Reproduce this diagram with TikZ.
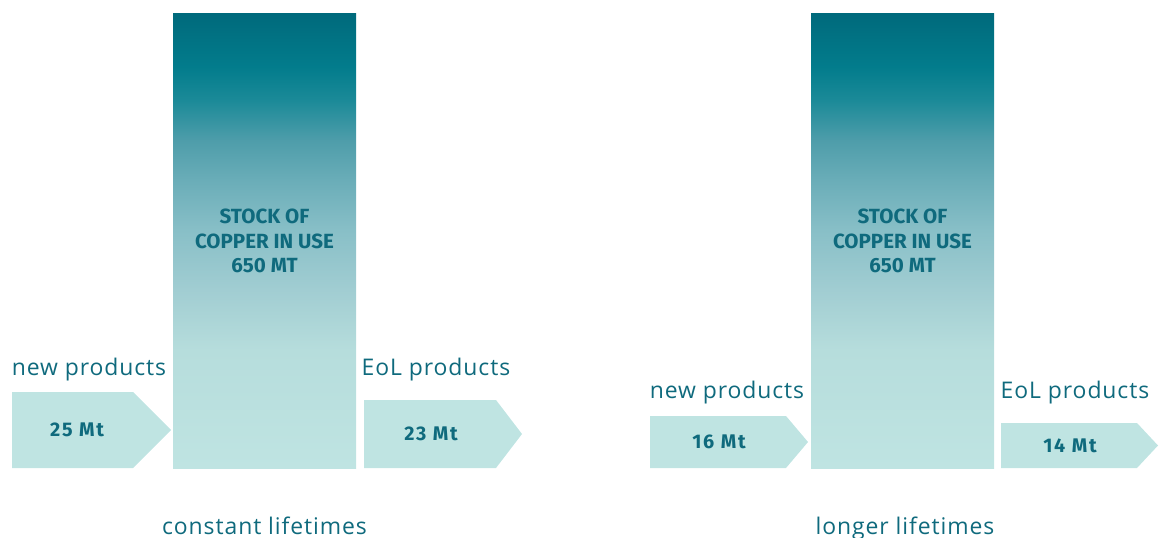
\documentclass[tikz,border=0pt]{standalone}
\usepackage{fontspec}
\setmainfont{Open Sans}
\newfontfamily\labfont{Open Sans}[LetterSpace=4]
\newfontfamily\mtfont{Fira Sans}[LetterSpace=9]
\newfontfamily\stockfont{Fira Sans}
\definecolor{txt}{HTML}{0F6A7D}
\definecolor{arrowc}{HTML}{BFE4E2}
\definecolor{cB}{HTML}{BFE4E2}
\definecolor{cA}{HTML}{B6DDDC}
\definecolor{cC}{HTML}{A1CDD2}
\definecolor{cD}{HTML}{88BFC7}
\definecolor{cE}{HTML}{6AADB8}
\definecolor{cF}{HTML}{4E9DAA}
\definecolor{cG}{HTML}{1B8A98}
\definecolor{cH}{HTML}{027C8C}
\definecolor{cT}{HTML}{006A7C}
\pgfdeclareverticalshading{stockshade}{100bp}{color(0bp)=(cB); color(25bp)=(cB); color(38bp)=(cA); color(44.6bp)=(cC); color(51.2bp)=(cD); color(56.7bp)=(cE); color(61.1bp)=(cF); color(65.5bp)=(cG); color(69.2bp)=(cH); color(75bp)=(cT); color(100bp)=(cT)}
\begin{document}
\begin{tikzpicture}[x=0.75pt,y=-0.75pt,
  bar/.style={shading=stockshade, shading angle=0, minimum width=137.25pt, minimum height=340.5pt, inner sep=0pt, align=center, text=txt, font=\stockfont\bfseries\fontsize{15.4}{18.4}\selectfont},
  flow/.style={fill=arrowc},
  mt/.style={text=txt, inner sep=0pt, font=\mtfont\bfseries\fontsize{14.8}{16}\selectfont},
  lab/.style={text=txt, inner sep=0pt, anchor=base, font=\labfont\fontsize{17.2}{19}\selectfont}]
\useasboundingbox (0,0) rectangle (1160,538);
% left panel
\node[bar] (stockL) at (264.5,241) {STOCK OF\\COPPER IN USE\\650 MT};
\fill[flow] (12,392) -- (133,392) -- (171,430) -- (133,468) -- (12,468) -- cycle;
\fill[flow] (364,400) -- (496,400) -- (522,434) -- (496,468) -- (364,468) -- cycle;
\node[mt] (inL) at (77,430) {25 Mt};
\node[mt] (outL) at (431,434) {23 Mt};
\node[lab] (newL) at (89,375) {new products};
\node[lab] (eolL) at (436,375) {EoL products};
\node[lab] (capL) at (264.5,534) {constant lifetimes};
% right panel
\node[bar] (stockR) at (902.5,241) {STOCK OF\\COPPER IN USE\\650 MT};
\fill[flow] (650,416) -- (786,416) -- (808,442) -- (786,468) -- (650,468) -- cycle;
\fill[flow] (1001,423) -- (1137,423) -- (1158,445.5) -- (1137,468) -- (1001,468) -- cycle;
\node[mt] (inR) at (719,442) {16 Mt};
\node[mt] (outR) at (1070,445.5) {14 Mt};
\node[lab] (newR) at (727,398) {new products};
\node[lab] (eolR) at (1075,398) {EoL products};
\node[lab] (capR) at (905,534) {longer lifetimes};
\end{tikzpicture}
\end{document}
